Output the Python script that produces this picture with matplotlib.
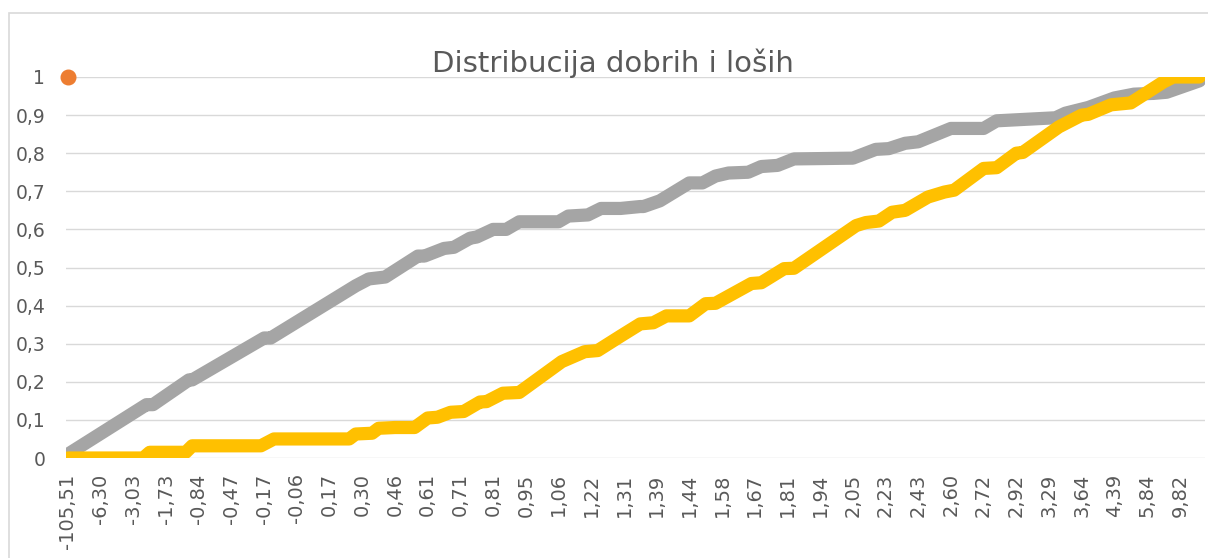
import matplotlib
matplotlib.use("Agg")
import matplotlib.pyplot as plt
from matplotlib.patches import Rectangle

# category labels shown on the x axis (one every 10 points)
x_labels = ["-105,51", "-6,30", "-3,03", "-1,73", "-0,84", "-0,47", "-0,17",
            "-0,06", "0,17", "0,30", "0,46", "0,61", "0,71", "0,81", "0,95",
            "1,06", "1,22", "1,31", "1,39", "1,44", "1,58", "1,67", "1,81",
            "1,94", "2,05", "2,23", "2,43", "2,60", "2,72", "2,92", "3,29",
            "3,64", "4,39", "5,84", "9,82"]
y_values = [0, 0.1, 0.2, 0.3, 0.4, 0.5, 0.6, 0.7, 0.8, 0.9, 1]
y_labels = ["0", "0,1", "0,2", "0,3", "0,4", "0,5", "0,6", "0,7", "0,8", "0,9", "1"]

# gray series: point index -> cumulative share
gray_idx = [0, 24, 26, 37, 38, 60, 62, 88, 92, 97, 107, 109, 115, 118, 123,
            125, 130, 134, 138, 150, 153, 159, 163, 169, 175, 176, 181, 190,
            194, 198, 202, 208, 212, 217, 222, 240, 247, 251, 256, 260, 270,
            280, 284, 302, 305, 312, 320, 326, 332, 336, 346]
gray_val = [0.01, 0.14, 0.14, 0.205, 0.205, 0.315, 0.315, 0.452, 0.47, 0.475,
            0.53, 0.53, 0.55, 0.553, 0.577, 0.58, 0.60, 0.60, 0.62, 0.62, 0.635,
            0.638, 0.655, 0.655, 0.66, 0.66, 0.675, 0.722, 0.722, 0.74, 0.748,
            0.75, 0.765, 0.768, 0.785, 0.787, 0.81, 0.812, 0.826, 0.83, 0.865,
            0.865, 0.885, 0.893, 0.905, 0.92, 0.945, 0.955, 0.957, 0.96, 0.99]

# yellow series
yellow_idx = [0, 23, 25, 36, 38, 59, 63, 86, 88, 93, 95, 100, 106, 110, 113,
              117, 121, 126, 128, 133, 138, 151, 158, 162, 169, 175, 179, 183,
              190, 195, 198, 209, 212, 219, 222, 241, 244, 248, 252, 256, 263,
              268, 271, 280, 284, 290, 292, 303, 310, 312, 319, 325, 335, 338,
              346]
yellow_val = [0.0, 0.0, 0.015, 0.015, 0.032, 0.032, 0.05, 0.05, 0.063, 0.065,
              0.078, 0.08, 0.08, 0.105, 0.107, 0.12, 0.122, 0.147, 0.148, 0.17,
              0.172, 0.253, 0.279, 0.282, 0.32, 0.352, 0.355, 0.373, 0.373,
              0.405, 0.406, 0.458, 0.46, 0.497, 0.498, 0.61, 0.618, 0.622,
              0.645, 0.65, 0.685, 0.698, 0.703, 0.76, 0.762, 0.80, 0.802, 0.869,
              0.90, 0.902, 0.927, 0.932, 0.987, 1.0, 1.0]

# single orange point
orange_idx = [0]
orange_val = [1]

GRAY = "#A5A5A5"
YELLOW = "#FFC000"
ORANGE = "#ED7D31"
TEXT = "#595959"
GRID = "#D9D9D9"


def draw_chart(img_filepath):
    fig = plt.figure(figsize=(12.08, 5.58), dpi=100)
    ax = fig.add_axes([66 / 1208, 100 / 558, 1139 / 1208, 381 / 558])

    ax.plot(gray_idx, gray_val, color=GRAY, lw=9.5, solid_capstyle="round",
            solid_joinstyle="round", zorder=3)
    ax.plot(yellow_idx, yellow_val, color=YELLOW, lw=9.5, solid_capstyle="round",
            solid_joinstyle="round", zorder=4)
    ax.plot(orange_idx, orange_val, ls="none", marker="o", ms=10.5,
            color=ORANGE, zorder=5, clip_on=False)

    ax.set_xlim(-0.6, 347.7)
    ax.set_ylim(0, 1)
    ax.set_xticks(range(0, 10 * len(x_labels), 10))
    ax.set_xticklabels(x_labels, rotation=90)
    ax.set_yticks(y_values)
    ax.set_yticklabels(y_labels)
    ax.tick_params(axis="x", length=0, pad=11, labelsize=14, labelcolor=TEXT)
    ax.tick_params(axis="y", length=0, pad=15, labelsize=13.5, labelcolor=TEXT)

    ax.grid(True, axis="y", color=GRID, lw=1.0)
    ax.set_axisbelow(True)
    for s in ax.spines.values():
        s.set_visible(False)

    fig.text(613 / 1208, 1 - 72 / 558, "Distribucija dobrih i loših",
             ha="center", va="baseline", fontsize=21, color=TEXT)

    # chart area border
    fig.patches.append(Rectangle((9 / 1208, -0.1), 1.2, 0.1 + 1 - 13 / 558,
                                 transform=fig.transFigure, fill=False,
                                 edgecolor=GRID, lw=1.2))

    fig.savefig(img_filepath)


if __name__ == "__main__":
    draw_chart("out.png")
